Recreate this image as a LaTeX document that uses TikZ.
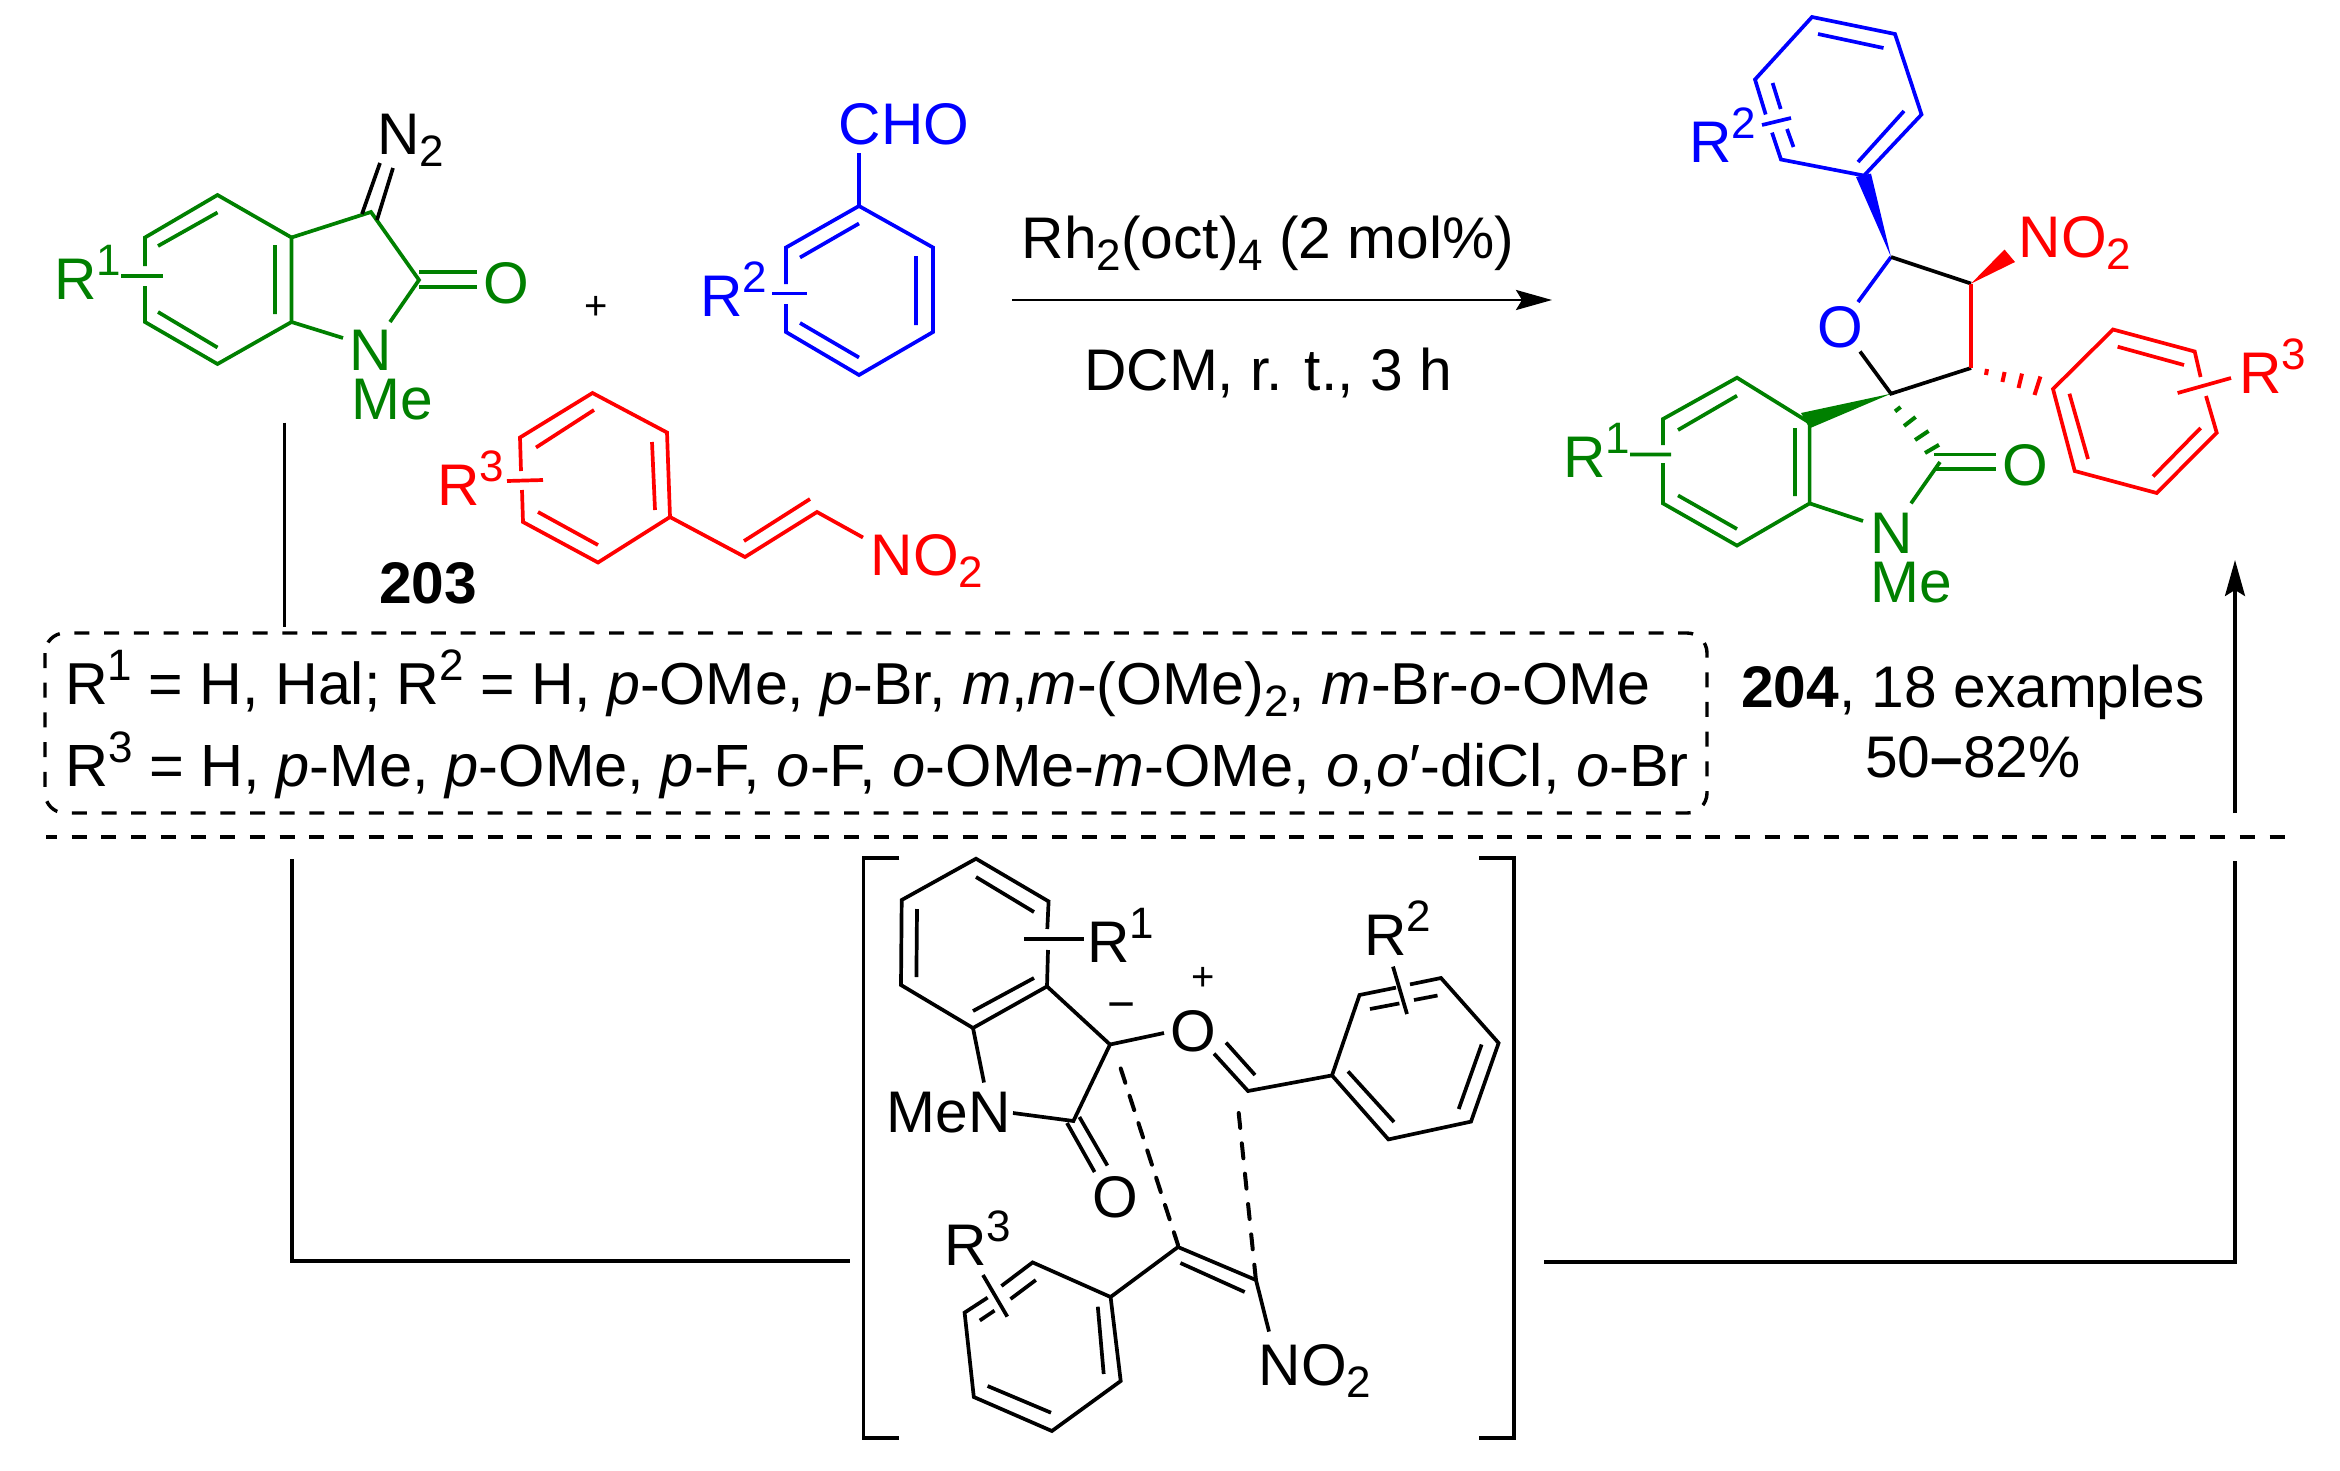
\documentclass[tikz,border=0pt]{standalone}
\usepackage{fontspec}
\setmainfont{Liberation Sans}
\usetikzlibrary{arrows.meta}
\definecolor{cg}{RGB}{0,128,0}
\definecolor{cb}{RGB}{0,0,255}
\definecolor{cr}{RGB}{255,0,0}
\newcommand\supr[1]{\raisebox{24pt}{\fontsize{44}{44}\selectfont #1}}
\newcommand\subs[1]{\raisebox{-12pt}{\fontsize{44}{44}\selectfont #1}}
\tikzset{
 lab/.style={anchor=base,inner sep=0pt,font=\fontsize{58.7}{60}\selectfont},
 txt/.style={anchor=base west,inner sep=0pt,font=\fontsize{59.15}{60}\selectfont},
 sym/.style={inner sep=0pt,font=\fontsize{40}{40}\selectfont},
 bond/.style={line width=3.7pt,line join=miter},
 gb/.style={bond,draw=cg},
 bb/.style={bond,draw=cb},
 rb/.style={bond,draw=cr},
 kb/.style={bond,draw=black},
 hash/.style={line width=4pt},
 flow/.style={line width=3.2pt,draw=black},
 arr/.style={flow,-{Stealth[length=36pt,width=20pt,inset=6pt]}},
 dash1/.style={line width=3.4pt,dash pattern=on 15pt off 14.7pt},
 dash2/.style={line width=4pt,line cap=round,dash pattern=on 15pt off 13.7pt},
 dash3/.style={line width=4pt,line cap=round,dash pattern=on 15pt off 15.5pt},
}
\begin{document}
\begin{tikzpicture}[x=1pt,y=-1pt]
\useasboundingbox (0,0) rectangle (2340,1470);
\fill[white] (0,0) rectangle (2340,1470);
% ---- reactant 1 (green)
\draw[gb] (145,266)--(145,237.5)--(217.5,195)--(291.5,237.5)--(291.5,322)--(217.5,364)--(145,322)--(145,286);
\draw[gb] (158,246)--(217.5,212.5) (158,312)--(217.5,347.5) (275,245)--(275,314);
\draw[gb] (121,276)--(163,276);
\draw[gb] (291.5,237.5)--(371,212)--(419,280)--(390,322) (291.5,322)--(343,338);
\draw[gb] (419,272)--(477,272) (419,287)--(477,287);
\draw[kb] (362,214)--(380,163) (377,220)--(393,168);
\node[lab,cg] (r1a) at (87.5,299) {R\supr{1}};
\node[lab,cg] (o1a) at (506,303) {O};
\node[lab,cg] (n1a) at (371,370) {N};
\node[lab,cg] (me1a) at (392,419) {Me};
\node[lab] (n2a) at (410.5,154.6) {N\subs{2}};
\node[sym] (plus1) at (596,308) {+};
% ---- reactant 2 (blue)
\draw[bb] (786,284)--(786,247.5)--(859,206)--(933,247.5)--(933,332)--(859,375)--(786,332)--(786,304);
\draw[bb] (800,257.5)--(859,223.5) (916,256)--(916,325) (800,323)--(859,357.5);
\draw[bb] (772,293.5)--(807,293.5) (859,206)--(859,153);
\node[lab,cb] (cho) at (904,144.6) {CHO};
\node[lab,cb] (r2a) at (734,316.4) {R\supr{2}};
% ---- reactant 3 (red)
\draw[rb] (521,471)--(520,437.5)--(592.5,393)--(667,432.5)--(670,517)--(598,562.5)--(523,522)--(522,490);
\draw[rb] (536,447.5)--(594,410) (652,442)--(655,510) (538,512)--(598,545);
\draw[rb] (507,481)--(543,480);
\draw[rb] (670,517)--(745,557)--(817,512)--(863,537.5) (744,541)--(810,499);
\node[lab,cr] (r3a) at (471,505.7) {R\supr{3}};
\node[lab,cr] (no2a) at (927,575) {NO\subs{2}};
\node[lab,font=\fontsize{58.7}{60}\selectfont\bfseries] (n203) at (428,603.6) {203};
% ---- reaction arrow
\coordinate (rxnS) at (1012,300); \coordinate (rxnE) at (1552,300);
\draw[arr,line width=2.8pt] (rxnS)--(rxnE);
\node[lab] (cond1) at (1268,258) {Rh\subs{2}(oct)\subs{4} (2 mol\%)};
\node[lab] (cond2) at (1268,390) {DCM, r. t., 3 h};
% ---- product
\draw[bb] (1772,132.6)--(1781,159.5)--(1864,175.6)--(1921.5,114.5)--(1895,34)--(1812,17)--(1755,79.5)--(1765.7,114.5);
\draw[bb] (1818,34)--(1883.5,48) (1904,111)--(1858,162) (1772.6,83)--(1780.7,109) (1787,129)--(1793.5,147);
\draw[bb] (1762,125)--(1791,118);
\fill[cb] (1891,257)--(1856,177)--(1871,173.6)--cycle;
\draw[bb] (1891,257)--(1858,302);
\draw[kb] (1860,351.5)--(1891,393.7)--(1971,368) (1891,257)--(1971,283.6);
\draw[rb] (1971,283.6)--(1971,368);
\fill[cr] (1971,283.6)--(2004.5,249.5)--(2015,262)--cycle;
\draw[cr,hash] (1987,369)--(1986,375) (2004.6,372)--(2002.4,382) (2022,373.6)--(2018.5,388) (2040.4,376.5)--(2034.5,395);
\draw[rb] (2200.6,377)--(2194.7,351.5)--(2113,329.5)--(2053,389)--(2074.7,471)--(2156.7,493)--(2216.7,432.7)--(2206,396);
\draw[rb] (2117.6,346.7)--(2184,365) (2069.4,393.7)--(2088,459) (2153,476.5)--(2200.6,428);
\draw[rb] (2177.6,393)--(2231,378);
\fill[cg] (1891,393.7)--(1801,413)--(1809.6,428.3)--cycle;
\draw[gb] (1663,445)--(1663,419)--(1737,377.7)--(1809.6,422.7)--(1809.6,503.4)--(1737,545.6)--(1663,503.4)--(1663,463);
\draw[gb] (1678,430)--(1737,395.7) (1795,428)--(1795,496) (1678,495.4)--(1737,529);
\draw[gb] (1630,454.4)--(1671,454.4) (1809.6,503.4)--(1863,521) (1940,462)--(1911,503.4);
\draw[gb] (1934,454.4)--(1995.5,454.4) (1935,469)--(1995.5,469);
\draw[cg,hash] (1895,411.4)--(1900.6,407) (1904,426)--(1915.6,417) (1915,440)--(1928.5,431) (1925,453)--(1939,444.8);
\node[lab,cb] (r2p) at (1723,162) {R\supr{2}};
\node[lab,cb] (op) at (1840.6,347.5) {O};
\node[lab,cr] (no2p) at (2075,257) {NO\subs{2}};
\node[lab,cr] (r3p) at (2272.6,393) {R\supr{3}};
\node[lab,cg] (r1p) at (1596.6,477) {R\supr{1}};
\node[lab,cg] (np) at (1891.5,553.6) {N};
\node[lab,cg] (mep) at (1911.6,602) {Me};
\node[lab,cg] (o2p) at (2025,485) {O};
% ---- conditions box
\coordinate (bx1) at (45,633); \coordinate (bx2) at (1707,813);
\draw[dash1,rounded corners=20pt] (bx1) rectangle (bx2);
\node[txt] (l1) at (65,704) {R\supr{1} = H, Hal; R\supr{2} = H, \textit{p}-OMe, \textit{p}-Br, \textit{m},\textit{m}-(OMe)\subs{2}, \textit{m}-Br-\textit{o}-OMe};
\node[txt,font=\fontsize{59.6}{60}\selectfont] (l2) at (65,786) {R\supr{3} = H, \textit{p}-Me, \textit{p}-OMe, \textit{p}-F, \textit{o}-F, \textit{o}-OMe-\textit{m}-OMe, \textit{o},\textit{o}′-diCl, \textit{o}-Br};
\node[lab] (ex) at (1973,707) {\textbf{204}, 18 examples};
\node[lab] (yl) at (1973,777) {50{\bfseries –}82\%};
\coordinate (hl1) at (46,837); \coordinate (hl2) at (2287,837);
\draw[dash1,dash phase=4pt] (hl1)--(hl2);
% ---- flow
\coordinate (va) at (284.5,422.5); \coordinate (vb) at (284.5,627);
\draw[flow] (va)--(vb);
\coordinate (la) at (292,859); \coordinate (lb) at (292,1261); \coordinate (lc) at (850,1261);
\draw[flow] (la)--(lb)--(lc);
\coordinate (ra) at (1544,1262); \coordinate (rb) at (2235,1262); \coordinate (rc) at (2235,861);
\draw[flow] (ra)--(rb)--(rc);
\coordinate (ua) at (2235,813); \coordinate (ub) at (2235,560);
\draw[arr] (ua)--(ub);
% ---- brackets
\draw[kb] (899.4,858)--(863.6,858)--(863.6,1438)--(899.4,1438);
\draw[kb] (1479,858)--(1514,858)--(1514,1438)--(1479,1438);
% ---- intermediate
\draw[kb] (1047.3,929)--(1048.6,901.4)--(976,858.7)--(901.7,900)--(901,985)--(973,1028)--(1047,986.4)--(1048,950);
\draw[kb] (976,877)--(1034,912) (917,909)--(916.4,977) (973,1011)--(1034,978);
\draw[kb] (1024,939)--(1084,939);
\draw[kb] (1047,986.4)--(1110,1044.5)--(1073.4,1121)--(1013,1113) (973,1028)--(984,1082.5);
\draw[kb] (1067,1123)--(1094.6,1172) (1079.4,1117)--(1107.4,1165.5);
\draw[kb] (1110,1044.5)--(1164,1033);
\draw[kb] (1214,1053.6)--(1248,1091)--(1332,1075.4) (1226,1042.6)--(1255,1075);
\draw[kb] (1396,987.6)--(1359.5,995)--(1332,1075.4)--(1388.4,1139.4)--(1471,1121.6)--(1498.6,1043)--(1441,978)--(1410,984.4);
\draw[kb] (1370,1009)--(1399.4,1003.4) (1414,1000)--(1437.5,995.5) (1481.6,1044.5)--(1458.7,1109) (1348,1071.4)--(1394,1122);
\draw[kb] (1393,966.6)--(1407,1014);
\draw[dash2] (1120.7,1068.5)--(1178,1245);
\draw[dash3] (1238.7,1113)--(1256,1281);
\draw[kb] (1110.6,1297)--(1178,1247)--(1256,1280)--(1269,1331.6) (1180.4,1263)--(1244.7,1292);
\draw[kb] (1001.4,1286)--(1032.6,1262.4)--(1110.6,1297)--(1120.7,1381)--(1051.9,1431)--(973.8,1397)--(964.6,1312.6)--(987.6,1297.6);
\draw[kb] (1097.8,1306.7)--(1103.7,1374) (987.6,1386)--(1051,1412.7) (1035.8,1280)--(1010.5,1299) (994.5,1310.6)--(979.8,1320.5);
\draw[kb] (983,1275)--(1007.3,1316.6);
\node[lab] (men) at (948.6,1132.7) {MeN};
\node[lab] (o3) at (1115,1217.7) {O};
\node[lab] (o4) at (1193,1051.7) {O};
\node[lab] (r1i) at (1121,962) {R\supr{1}};
\node[lab] (r2i) at (1398,955.6) {R\supr{2}};
\node[lab] (r3i) at (978,1265) {R\supr{3}};
\node[lab] (no2i) at (1315,1385.8) {NO\subs{2}};
\node[sym] (pl) at (1203,979) {+};
\node[sym,font=\fontsize{48}{48}\selectfont] (mi) at (1122,1012) {−};
\end{tikzpicture}
\end{document}
